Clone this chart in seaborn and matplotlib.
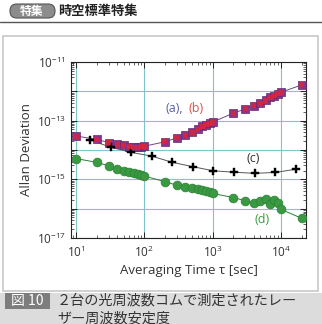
import numpy as np
import pandas as pd
import seaborn as sns
import matplotlib.pyplot as plt
from matplotlib.patches import FancyBboxPatch, Rectangle
from matplotlib.ticker import FixedLocator, LogLocator, FuncFormatter, NullFormatter

# Data
tau_ab = [10, 20, 30, 40, 50, 60, 70, 80, 90, 100, 200, 300, 400, 500, 600, 700, 800, 900,
          1000, 2000, 3000, 4000, 5000, 6000, 7000, 8000, 9000, 10000, 20000]
adev_a = [3.0e-14, 2.3e-14, 1.8e-14, 1.55e-14, 1.45e-14, 1.3e-14, 1.3e-14, 1.28e-14, 1.3e-14, 1.35e-14,
          1.9e-14, 2.6e-14, 3.2e-14, 4.2e-14, 5.1e-14, 6.4e-14, 7.3e-14, 8.2e-14,
          9.0e-14, 1.8e-13, 2.5e-13, 3.2e-13, 3.9e-13, 5.0e-13, 6.2e-13, 7.2e-13, 8.3e-13, 9.3e-13, 1.65e-12]
adev_b = [2.9e-14, 2.3e-14, 1.75e-14, 1.5e-14, 1.4e-14, 1.28e-14, 1.25e-14, 1.25e-14, 1.28e-14, 1.35e-14,
          1.9e-14, 2.6e-14, 3.2e-14, 4.1e-14, 5.1e-14, 6.3e-14, 7.3e-14, 8.2e-14,
          9.0e-14, 1.8e-13, 2.5e-13, 3.2e-13, 3.9e-13, 5.0e-13, 6.2e-13, 7.2e-13, 8.3e-13, 9.3e-13, 1.65e-12]

tau_c = [16, 32, 64, 128, 256, 512, 1024, 2048, 4096, 8192, 16384]
adev_c = [2.2e-14, 1.25e-14, 8.3e-15, 6.2e-15, 3.8e-15, 2.7e-15, 1.95e-15, 1.75e-15, 1.6e-15, 1.72e-15, 2.2e-15]

tau_d = [10, 20, 30, 40, 50, 60, 70, 80, 90, 100, 200, 300, 400, 500, 600, 700, 800, 900,
         1000, 2000, 3000, 4000, 5000, 6000, 7000, 8000, 9000, 10000, 20000]
adev_d = [5.1e-15, 3.8e-15, 2.9e-15, 2.2e-15, 1.95e-15, 1.8e-15, 1.66e-15, 1.5e-15, 1.4e-15, 1.3e-15,
          8.3e-16, 6.3e-16, 5.5e-16, 5.2e-16, 4.7e-16, 4.3e-16, 4.0e-16, 3.7e-16,
          3.3e-16, 2.4e-16, 1.86e-16, 1.6e-16, 1.85e-16, 2.1e-16, 1.5e-16, 1.9e-16, 1.6e-16, 9.5e-17, 4.7e-17]

y_decades = [-17, -16, -15, -14, -13, -12, -11]
y_labeled = [-17, -15, -13, -11]

header_tag = "特集"
header_title = "時空標準特集"
fig_no = "図 10"
caption_1 = "２台の光周波数コムで測定されたレー"
caption_2 = "ザー周波数安定度"


def main():
    sns.set_style("ticks")
    plt.rcParams['font.family'] = ['Open Sans', 'Noto Sans CJK JP', 'DejaVu Sans']
    plt.rcParams['mathtext.fontset'] = 'custom'
    plt.rcParams['mathtext.rm'] = 'Open Sans'
    plt.rcParams['mathtext.it'] = 'Open Sans:italic'

    fig = plt.figure(figsize=(3.22, 3.24), dpi=100)

    # page decorations (pixel helpers)
    W, H = 322, 324

    def fx(px):
        return px / W

    def fy(py):
        return 1 - py / H

    fig.patches.append(Rectangle((fx(3), fy(291)), fx(315), 255 / H, transform=fig.transFigure,
                                 facecolor='white', edgecolor='#c8c8c8', lw=1.2, zorder=-5))
    fig.patches.append(FancyBboxPatch((fx(10), fy(18)), fx(45), 14 / H,
                                      boxstyle="round,pad=0,rounding_size=0.021",
                                      transform=fig.transFigure, facecolor='#8c8c8c', edgecolor='#555555',
                                      lw=0.8, zorder=-4))
    fig.text(fx(32), fy(11), header_tag, color='white', fontsize=8.5, fontweight='bold',
             family=['Noto Sans CJK JP'], ha='center', va='center')
    fig.text(fx(58), fy(11), header_title, color='#222222', fontsize=9.5, fontweight='bold',
             family=['Noto Sans CJK JP'], ha='left', va='center')
    fig.add_artist(plt.Line2D([0, 1], [fy(21.5), fy(21.5)], transform=fig.transFigure,
                              color='#555555', lw=1.0))

    fig.patches.append(Rectangle((0, 0), 1, fy(292.5), transform=fig.transFigure,
                                 facecolor='#dcdcdc', edgecolor='none', zorder=-5))
    fig.patches.append(Rectangle((fx(5), fy(309)), fx(45), 16 / H, transform=fig.transFigure,
                                 facecolor='#7d7d7d', edgecolor='none', zorder=-4))
    fig.text(fx(27.5), fy(301), fig_no, color='white', fontsize=10,
             family=['Noto Sans CJK JP'], ha='center', va='center')
    fig.text(fx(57), fy(301), caption_1, color='#333333', fontsize=10.2,
             family=['Noto Sans CJK JP'], ha='left', va='center')
    fig.text(fx(57), fy(318), caption_2, color='#333333', fontsize=10.2,
             family=['Noto Sans CJK JP'], ha='left', va='center')

    ax = fig.add_axes([fx(71), fy(238), fx(306) - fx(71), fy(62) - fy(238)])
    ax.set_zorder(2)
    ax.set_facecolor('white')

    df_a = pd.DataFrame({'tau': tau_ab, 'adev': adev_a})
    df_b = pd.DataFrame({'tau': tau_ab, 'adev': adev_b})
    df_c = pd.DataFrame({'tau': tau_c, 'adev': adev_c})
    df_d = pd.DataFrame({'tau': tau_d, 'adev': adev_d})

    # guide curves
    sns.lineplot(data=df_a, x='tau', y='adev', ax=ax, color='#6a4a7a', lw=0.7, zorder=2)
    sns.lineplot(data=df_c, x='tau', y='adev', ax=ax, color='#555555', lw=0.7, zorder=2)
    sns.lineplot(data=df_d, x='tau', y='adev', ax=ax, color='#2f7a3a', lw=0.7, zorder=2)

    # markers
    sns.scatterplot(data=df_a, x='tau', y='adev', ax=ax, marker='s', s=40,
                    color='#86358a', edgecolor='#6a2a70', linewidth=0.5, zorder=3)
    sns.scatterplot(data=df_b, x='tau', y='adev', ax=ax, marker='s', s=13,
                    color='#e02438', edgecolor='none', alpha=0.8, zorder=4)
    sns.scatterplot(data=df_c, x='tau', y='adev', ax=ax, marker='P', s=30,
                    color='black', edgecolor='black', linewidth=0.3, zorder=3)
    sns.scatterplot(data=df_d, x='tau', y='adev', ax=ax, marker='o', s=40,
                    color='#3a9a42', edgecolor='#2e7f35', linewidth=0.5, zorder=3)

    ax.set_xscale('log')
    ax.set_yscale('log')
    ax.set_xlim(8.45, 2.32e4)
    ax.set_ylim(1e-17, 1e-11)

    ax.yaxis.set_major_locator(FixedLocator([10.0 ** e for e in y_decades]))
    ax.yaxis.set_major_formatter(FuncFormatter(
        lambda v, p: r'$10^{%d}$' % round(np.log10(v)) if round(np.log10(v)) in y_labeled else ''))
    ax.yaxis.set_minor_locator(LogLocator(base=10, subs=np.arange(2, 10), numticks=20))
    ax.yaxis.set_minor_formatter(NullFormatter())
    ax.xaxis.set_major_locator(FixedLocator([10, 100, 1000, 10000]))
    ax.xaxis.set_major_formatter(FuncFormatter(lambda v, p: r'$10^{%d}$' % round(np.log10(v))))
    ax.xaxis.set_minor_locator(LogLocator(base=10, subs=np.arange(2, 10), numticks=20))
    ax.xaxis.set_minor_formatter(NullFormatter())

    ax.grid(True, which='major', color='#7cc6cc', lw=0.8)
    ax.tick_params(which='both', direction='in', top=True, right=True, colors='#222222')
    ax.tick_params(which='major', length=4, width=0.7, labelsize=8.5, labelcolor='#333333')
    ax.tick_params(which='minor', length=2.2, width=0.5)
    ax.tick_params(axis='x', pad=5)
    for sp in ax.spines.values():
        sp.set_linewidth(0.8)
        sp.set_color('#222222')

    ax.set_xlabel('Averaging Time τ [sec]', fontsize=9.5, color='#333333', labelpad=3)
    ax.set_ylabel('Allan Deviation', fontsize=9.5, color='#333333', labelpad=3)

    ax.text(275, 2.7e-13, '(a),', color='#5a5ea6', fontsize=9, ha='center', va='center')
    ax.text(580, 2.7e-13, '(b)', color='#e0504a', fontsize=9, ha='center', va='center')
    ax.text(3900, 5.2e-15, '(c)', color='#333333', fontsize=9, ha='center', va='center')
    ax.text(5300, 4.4e-17, '(d)', color='#3a9a42', fontsize=9, ha='center', va='center')

    plt.savefig('out.png', dpi=100)


if __name__ == "__main__":
    main()
